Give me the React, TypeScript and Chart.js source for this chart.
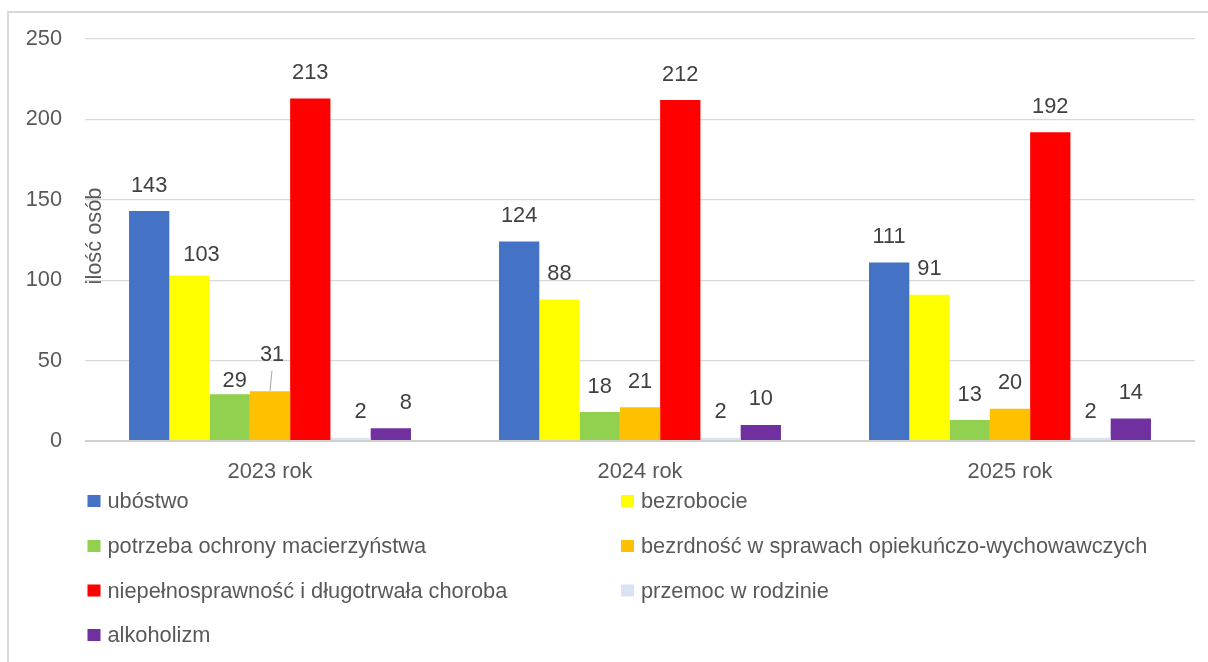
import React, { useEffect, useRef } from "react";
import { Chart, registerables } from "chart.js";

Chart.register(...registerables);

const categories = ["2023 rok", "2024 rok", "2025 rok"];
const seriesNames = [
  "ubóstwo",
  "bezrobocie",
  "potrzeba ochrony macierzyństwa",
  "bezrdność w sprawach opiekuńczo-wychowawczych",
  "niepełnosprawność i długotrwała choroba",
  "przemoc w rodzinie",
  "alkoholizm",
];
const ubostwo = [143, 124, 111];
const bezrobocie = [103, 88, 91];
const macierzynstwo = [29, 18, 13];
const bezradnosc = [31, 21, 20];
const niepelnosprawnosc = [213, 212, 192];
const przemoc = [2, 2, 2];
const alkoholizm = [8, 10, 14];
const yTicks = [0, 50, 100, 150, 200, 250];
const yTitle = "ilość osób";

const seriesValues = [ubostwo, bezrobocie, macierzynstwo, bezradnosc, niepelnosprawnosc, przemoc, alkoholizm];
const seriesColors = ["#4472C4", "#FFFF00", "#92D050", "#FFC000", "#FF0000", "#DAE3F3", "#7030A0"];

const FONT = "'Liberation Sans', Arial, sans-serif";
const FS = 21.8;
const TEXT = "#595959";
const LABEL = "#404040";

// manual label placement tweaks (as in the reference)
const labelAdjust: Record<string, { dx: number; dy: number; leader?: boolean }> = {
  "1-0": { dx: 12, dy: -20.5 },
  "2-0": { dx: 5, dy: -13 },
  "3-0": { dx: 2, dy: -36, leader: true },
  "5-0": { dx: 10, dy: -25.5 },
  "6-0": { dx: 15, dy: -25.5 },
};

const customPlugin = {
  id: "customDraw",
  afterDatasetsDraw(chart: any) {
    const ctx = chart.ctx;
    const area = chart.chartArea;
    ctx.save();
    ctx.font = `${FS}px ${FONT}`;
    ctx.textAlign = "center";
    ctx.textBaseline = "middle";
    chart.data.datasets.forEach((ds: any, di: number) => {
      const meta = chart.getDatasetMeta(di);
      meta.data.forEach((bar: any, i: number) => {
        const adj = labelAdjust[`${di}-${i}`] || { dx: 0, dy: -25.5 };
        const lx = bar.x + adj.dx;
        const ly = bar.y + adj.dy;
        if (adj.leader) {
          ctx.strokeStyle = "#a6a6a6";
          ctx.lineWidth = 1;
          ctx.beginPath();
          ctx.moveTo(lx, ly + 15.5);
          ctx.lineTo(bar.x, bar.y);
          ctx.stroke();
        }
        ctx.fillStyle = LABEL;
        ctx.fillText(String(ds.data[i]), lx, ly);
      });
    });

    // y axis title (placed inside plot area, as in reference)
    ctx.save();
    ctx.translate(area.left + 10, area.top + 197);
    ctx.rotate(-Math.PI / 2);
    ctx.fillStyle = TEXT;
    ctx.fillText(yTitle, 0, 0);
    ctx.restore();

    // legend in two columns
    const colBox = [87.5, 621];
    const rowY = [501, 546, 590.5, 635];
    ctx.textAlign = "left";
    chart.data.datasets.forEach((ds: any, di: number) => {
      const col = di % 2;
      const row = Math.floor(di / 2);
      const bx = colBox[col];
      const cy = rowY[row];
      ctx.fillStyle = ds.backgroundColor;
      ctx.fillRect(bx, cy - 6, 13, 12);
      ctx.fillStyle = TEXT;
      ctx.fillText(ds.label, bx + 20, cy + 1);
    });
    ctx.restore();
  },
};

export default function App() {
  const canvasRef = useRef<HTMLCanvasElement | null>(null);

  useEffect(() => {
    if (!canvasRef.current) return;
    Chart.defaults.font.family = FONT;
    const chart = new Chart(canvasRef.current, {
      type: "bar",
      data: {
        labels: categories,
        datasets: seriesNames.map((name, i) => ({
          label: name,
          data: seriesValues[i],
          backgroundColor: seriesColors[i],
          borderWidth: 0,
          categoryPercentage: 0.762,
          barPercentage: 1,
        })),
      },
      options: {
        animation: false,
        responsive: true,
        maintainAspectRatio: false,
        layout: { padding: { top: 39, right: 13, bottom: 181, left: 0 } },
        plugins: {
          legend: { display: false },
          tooltip: { enabled: false },
          title: { display: false },
        },
        scales: {
          x: {
            grid: { display: false, drawTicks: false },
            border: { display: false },
            ticks: { color: TEXT, font: { size: FS, family: FONT }, padding: 18 },
            afterFit: (s: any) => {
              s.height = 40;
            },
          },
          y: {
            min: 0,
            max: 250,
            afterBuildTicks: (s: any) => {
              s.ticks = yTicks.map((v) => ({ value: v }));
            },
            ticks: { color: TEXT, font: { size: FS, family: FONT }, padding: 23 },
            grid: {
              color: (c: any) => (c.tick && c.tick.value === 0 ? "#d0d0d0" : "#d9d9d9"),
              lineWidth: (c: any) => (c.tick && c.tick.value === 0 ? 2 : 1.3),
              drawTicks: false,
            },
            border: { display: false },
            afterFit: (s: any) => {
              s.width = 85;
            },
          },
        },
      },
      plugins: [customPlugin],
    });
    return () => chart.destroy();
  }, []);

  return (
    <div
      style={{
        position: "absolute",
        left: 0,
        top: 0,
        width: 1208,
        height: 662,
        overflow: "hidden",
        background: "#ffffff",
      }}
    >
      <div
        style={{
          position: "absolute",
          left: 7,
          top: 11,
          width: 1201,
          height: 651,
          borderLeft: "2px solid #d9d9d9",
          borderTop: "2px solid #d9d9d9",
          boxSizing: "border-box",
        }}
      />
      <canvas ref={canvasRef} style={{ position: "absolute", left: 0, top: 0, width: 1208, height: 662 }} />
    </div>
  );
}
